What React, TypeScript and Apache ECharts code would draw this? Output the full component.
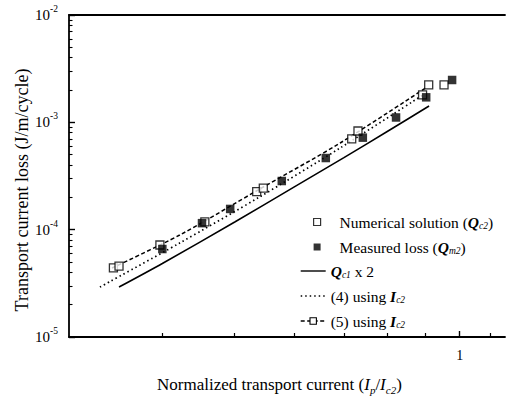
import React, { useEffect, useRef } from 'react';
import * as echarts from 'echarts';

const F = "'Liberation Serif', 'Times New Roman', serif";

// Numerical solution (Qc2) — open squares
const numX = [0.344, 0.35, 0.397, 0.456, 0.535, 0.546, 0.717, 0.731, 0.892, 0.909, 0.953];
const numY = [4.4e-5, 4.58e-5, 7.2e-5, 1.18e-4, 2.26e-4, 2.44e-4, 7.0e-4, 8.3e-4, 1.8e-3, 2.23e-3, 2.23e-3];
// Measured loss (Qm2) — filled squares
const measX = [0.4, 0.452, 0.493, 0.578, 0.662, 0.742, 0.822, 0.902, 0.977];
const measY = [6.6e-5, 1.15e-4, 1.56e-4, 2.84e-4, 4.65e-4, 7.2e-4, 1.11e-3, 1.71e-3, 2.48e-3];
// Qc1 x 2 — solid line
const qc1X = [0.35, 0.4, 0.5, 0.6, 0.7, 0.8, 0.91];
const qc1Y = [2.92e-5, 4.84e-5, 1.18e-4, 2.49e-4, 4.69e-4, 8.21e-4, 1.42e-3];
// (4) using Ic2 — dotted line
const eq4X = [0.33, 0.422, 0.54, 0.692, 0.893];
const eq4Y = [2.92e-5, 7.51e-5, 2.02e-4, 5.77e-4, 1.8e-3];
// (5) using Ic2 — dashed line
const eq5X = [0.3425, 0.422, 0.54, 0.692, 0.904];
const eq5Y = [4.39e-5, 8.92e-5, 2.39e-4, 6.42e-4, 2.13e-3];

// axis ticks
const xMinorTicks = [0.4, 0.5, 0.6, 0.7, 0.8, 0.9, 1.1];
const xMajorTicks = [1];
const yMinorTicks = [2, 3, 4, 5, 6, 7, 8, 9].flatMap((m) => [m * 1e-5, m * 1e-4, m * 1e-3]);

const legendNames: Record<string, string> = {
  num: 'Numerical solution ({i|Q}{sub|c2})',
  meas: 'Measured loss ({i|Q}{sub|m2})',
  qc1: '{i|Q}{sub|c1} x 2',
  eq4: '(4) using {i|I}{sub|c2}',
  eq5: '(5) using {i|I}{sub|c2}',
};

const zip = (xs: number[], ys: number[]) => xs.map((x, i) => [x, ys[i]]);

const legendRich = {
  i: { fontStyle: 'italic', fontWeight: 'bold', fontSize: 15.5, lineHeight: 18, fontFamily: F, color: '#000' },
  sub: { fontStyle: 'italic', fontSize: 9.5, lineHeight: 9, verticalAlign: 'bottom', fontFamily: F, color: '#000' },
};

const legendText = {
  fontFamily: F,
  fontSize: 15.5,
  lineHeight: 18,
  color: '#000',
  rich: legendRich,
};

const SQUARE_ICON = 'path://M0,0 L10,0 L10,10 L0,10 Z';

const XMIN = 0.3;
const XMAX = 1.15;
const YMIN = 1e-5;
const YMAX = 1e-2;

export default function App() {
  const ref = useRef<HTMLDivElement>(null);
  useEffect(() => {
    const chart = echarts.init(ref.current!, null, { renderer: 'svg' });
    const option: any = {
      animation: false,
      backgroundColor: '#fff',
      grid: { left: 69, right: 1, top: 15, bottom: 66 },
      xAxis: [
        {
          type: 'log',
          min: XMIN,
          max: XMAX,
          position: 'bottom',
          axisLine: { lineStyle: { color: '#000', width: 1.8 } },
          axisTick: { inside: true, length: 6, customValues: xMajorTicks, lineStyle: { color: '#000', width: 1.4 } },
          axisLabel: {
            customValues: xMajorTicks,
            formatter: (v: number) => (Math.abs(v - 1) < 1e-9 ? '1' : ''),
            fontFamily: F,
            fontSize: 14,
            color: '#000',
            margin: 11,
          },
          splitLine: { show: false },
        },
        {
          type: 'log',
          min: XMIN,
          max: XMAX,
          position: 'bottom',
          axisLine: { show: false },
          axisTick: { inside: true, length: 4, customValues: xMinorTicks, lineStyle: { color: '#000', width: 1.2 } },
          axisLabel: { show: false },
          splitLine: { show: false },
        },
        {
          type: 'log',
          min: XMIN,
          max: XMAX,
          position: 'top',
          axisLine: { lineStyle: { color: '#000', width: 1.8 } },
          axisTick: { show: false },
          axisLabel: { show: false },
          splitLine: { show: false },
        },
      ],
      yAxis: [
        {
          type: 'log',
          min: YMIN,
          max: YMAX,
          position: 'left',
          axisLine: { lineStyle: { color: '#000', width: 1.8 } },
          axisTick: { inside: true, length: 6, lineStyle: { color: '#000', width: 1.4 } },
          axisLabel: {
            margin: 11,
            formatter: (v: number) => '{b|10}{s|' + Math.round(Math.log10(v)) + '}',
            rich: {
              b: { fontFamily: F, fontSize: 15, lineHeight: 22, color: '#000' },
              s: { fontFamily: F, fontSize: 9.5, lineHeight: 10, verticalAlign: 'top', color: '#000' },
            },
          },
          splitLine: { show: false },
        },
        {
          type: 'log',
          min: YMIN,
          max: YMAX,
          position: 'left',
          axisLine: { show: false },
          axisTick: { inside: true, length: 3.5, customValues: yMinorTicks, lineStyle: { color: '#000', width: 1.1 } },
          axisLabel: { show: false },
          splitLine: { show: false },
        },
      ],
      legend: [
        {
          orient: 'vertical',
          left: 308,
          top: 208,
          itemWidth: 35,
          itemHeight: 7,
          itemGap: 7,
          symbolKeepAspect: true,
          selectedMode: false,
          formatter: (n: string) => legendNames[n],
          textStyle: legendText,
          data: [
            { name: 'num', icon: SQUARE_ICON, itemStyle: { color: '#fff', borderColor: '#000', borderWidth: 1.2 } },
            { name: 'meas', icon: SQUARE_ICON, itemStyle: { color: '#000', borderWidth: 0 } },
          ],
        },
        {
          orient: 'vertical',
          left: 295,
          top: 257,
          itemWidth: 25,
          itemHeight: 8,
          itemGap: 7,
          selectedMode: false,
          formatter: (n: string) => legendNames[n],
          textStyle: legendText,
          lineStyle: { width: 1.4 },
          data: [
            { name: 'qc1', itemStyle: { opacity: 0 } },
            { name: 'eq4', itemStyle: { opacity: 0 } },
            { name: 'eq5', itemStyle: { color: '#fff', borderColor: '#000', borderWidth: 1.1 } },
          ],
        },
      ],
      series: [
        {
          name: 'qc1',
          type: 'line',
          data: zip(qc1X, qc1Y),
          smooth: 0.3,
          symbol: 'none',
          color: '#000',
          lineStyle: { color: '#000', width: 1.6, type: 'solid' },
          z: 2,
        },
        {
          name: 'eq4',
          type: 'line',
          data: zip(eq4X, eq4Y),
          smooth: 0.3,
          symbol: 'none',
          color: '#000',
          lineStyle: { color: '#000', width: 1.7, type: [1.5, 3] },
          z: 2,
        },
        {
          name: 'eq5',
          type: 'line',
          data: zip(eq5X, eq5Y),
          smooth: 0.3,
          symbol: 'rect',
          showSymbol: false,
          color: '#000',
          lineStyle: { color: '#000', width: 1.5, type: [4, 2.5] },
          z: 2,
        },
        {
          name: 'num',
          type: 'scatter',
          data: zip(numX, numY),
          symbol: 'rect',
          symbolSize: 8,
          itemStyle: { color: '#fff', borderColor: '#000', borderWidth: 1.3 },
          z: 3,
        },
        {
          name: 'meas',
          type: 'scatter',
          data: zip(measX, measY),
          symbol: 'rect',
          symbolSize: 8.5,
          itemStyle: { color: '#000' },
          z: 4,
        },
      ],
      graphic: [
        {
          type: 'text',
          x: 22,
          y: 190,
          rotation: Math.PI / 2,
          style: {
            text: 'Transport current loss (J/m/cycle)',
            fontFamily: F,
            fontSize: 18,
            fill: '#000',
            align: 'center',
            verticalAlign: 'middle',
            textAlign: 'center',
            textVerticalAlign: 'middle',
          },
        },
        {
          type: 'text',
          x: 157,
          y: 384,
          style: {
            text: 'Normalized transport current ({i|I}{sub|p}/{i|I}{sub|c2})',
            fontFamily: F,
            fontSize: 17,
            lineHeight: 22,
            fill: '#000',
            align: 'left',
            verticalAlign: 'middle',
            textAlign: 'left',
            textVerticalAlign: 'middle',
            rich: {
              i: { fontStyle: 'italic', fontSize: 17, lineHeight: 22, fontFamily: F, fill: '#000' },
              sub: { fontStyle: 'italic', fontSize: 11, lineHeight: 12, verticalAlign: 'bottom', fontFamily: F, fill: '#000' },
            },
          },
        },
      ],
    };
    chart.setOption(option);
    return () => chart.dispose();
  }, []);
  return (
    <div
      ref={ref}
      style={{ position: 'fixed', left: 0, top: 0, width: 506, height: 403, background: '#fff' }}
    />
  );
}
